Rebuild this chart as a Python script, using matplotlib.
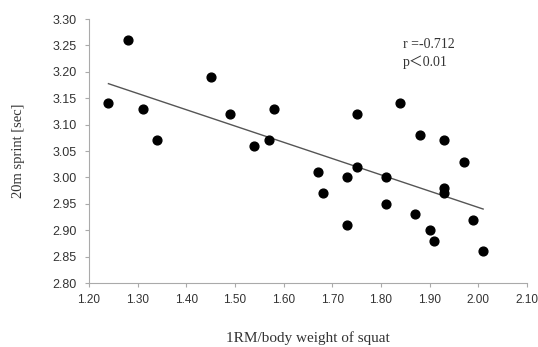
import numpy as np
import matplotlib
matplotlib.use("Agg")
import matplotlib.pyplot as plt

# 1RM / body weight of squat vs 20m sprint time
squat_ratio = [1.24, 1.28, 1.31, 1.34, 1.45, 1.49, 1.54, 1.57, 1.58, 1.67,
               1.68, 1.73, 1.73, 1.75, 1.75, 1.81, 1.81, 1.84, 1.87, 1.88,
               1.90, 1.91, 1.93, 1.93, 1.93, 1.97, 1.99, 2.01]
sprint_sec = [3.14, 3.26, 3.13, 3.07, 3.19, 3.12, 3.06, 3.07, 3.13, 3.01,
              2.97, 3.00, 2.91, 3.12, 3.02, 3.00, 2.95, 3.14, 2.93, 3.08,
              2.90, 2.88, 3.07, 2.98, 2.97, 3.03, 2.92, 2.86]

x_ticks = [1.20, 1.30, 1.40, 1.50, 1.60, 1.70, 1.80, 1.90, 2.00, 2.10]
y_ticks = [2.80, 2.85, 2.90, 2.95, 3.00, 3.05, 3.10, 3.15, 3.20, 3.25, 3.30]

x = np.array(squat_ratio)
y = np.array(sprint_sec)
slope, intercept = np.polyfit(x, y, 1)
line_x = np.array([x.min(), x.max()])

fig = plt.figure(figsize=(5.38, 3.47), dpi=100)
ax = fig.add_axes([0.1654, 0.1844, 0.814, 0.7608])

ax.plot(line_x, slope * line_x + intercept, color="#555555", linewidth=1.0)
ax.scatter(x, y, s=40, color="black", zorder=3)

ax.set_xlim(1.20, 2.10)
ax.set_ylim(2.80, 3.30)
ax.set_xticks(x_ticks)
ax.set_yticks(y_ticks)
ax.set_xticklabels([f"{v:.2f}" for v in x_ticks])
ax.set_yticklabels([f"{v:.2f}" for v in y_ticks])

for side in ["top", "right"]:
    ax.spines[side].set_visible(False)
for side in ["left", "bottom"]:
    ax.spines[side].set_color("#aaaaaa")
    ax.spines[side].set_linewidth(0.8)
ax.tick_params(direction="out", length=3, color="#aaaaaa", labelcolor="#333333",
               labelsize=9)
ax.tick_params(axis="y", pad=6)
ax.tick_params(axis="x", pad=5, labelsize=8.5)
for lab in ax.get_xticklabels() + ax.get_yticklabels():
    lab.set_family("Liberation Sans")

ax.set_xlabel("1RM/body weight of squat", family="Liberation Serif",
              fontsize=11, color="#333333", va="center")
ax.xaxis.set_label_coords(0.5, -0.21)
ax.set_ylabel("20m sprint [sec]", family="Liberation Serif",
              fontsize=10.5, color="#333333", va="center")
ax.yaxis.set_label_coords(-0.162, 0.5)

ax.text(1.845, 3.252, "r =-0.712", family="Liberation Serif", fontsize=10,
        color="#333333", va="center")
ax.text(1.845, 3.218, "p＜0.01", family=["Liberation Serif", "Noto Sans CJK JP"],
        fontsize=10, color="#333333", va="center")

fig.savefig("out.png", dpi=100)
